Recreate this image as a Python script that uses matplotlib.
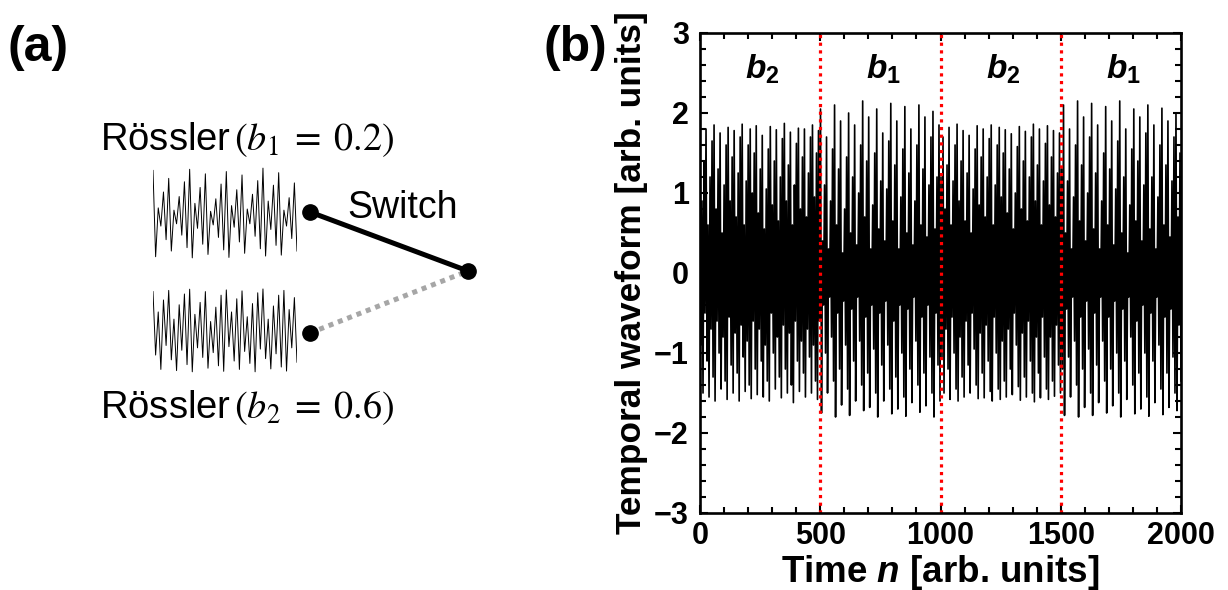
import numpy as np
import matplotlib
matplotlib.use("Agg")
import matplotlib.pyplot as plt
from matplotlib.ticker import MultipleLocator

plt.rcParams['font.family'] = ['Liberation Sans', 'DejaVu Sans']
plt.rcParams['mathtext.fontset'] = 'custom'
plt.rcParams['mathtext.rm'] = 'Liberation Sans:bold'
plt.rcParams['mathtext.it'] = 'Liberation Sans:italic:bold'
plt.rcParams['mathtext.bf'] = 'Liberation Sans:bold'
plt.rcParams['mathtext.bfit'] = 'Liberation Sans:bold:italic'

# Waveform extrema (alternating peak / trough), one block per 500-step interval
seg1_peaks = [1.75, 0.9, 1.4, 1.8, 0.6, 1.2, 1.65, 1.85, 0.8, 1.3, 1.75, 0.5, 1.1, 1.6, 1.82,
              0.9, 1.45, 1.78, 0.7, 1.25, 1.7, 1.86, 0.6, 1.15, 1.6, 1.8, 1.0, 1.5, 1.84, 0.75,
              1.3, 1.72, 0.55, 1.05, 1.55, 1.83, 0.85, 1.4, 1.79, 0.65, 1.2, 1.68, 1.87, 0.9,
              1.35, 1.76, 0.6, 1.1, 1.62, 1.81, 0.8, 1.45, 1.8, 0.7, 1.25, 1.7, 1.85, 0.95, 1.5, 1.78]
seg1_troughs = [-0.9, -1.5, -0.5, -1.1, -1.55, -0.7, -1.3, -1.6, -0.6, -1.0, -1.45, -0.8, -1.35,
                -1.58, -0.55, -1.15, -1.5, -0.75, -1.25, -1.6, -0.65, -1.05, -1.48, -0.85, -1.4,
                -1.57, -0.6, -1.2, -1.52, -0.7, -1.1, -1.55, -0.9, -1.35, -1.6, -0.5, -1.0, -1.45,
                -0.8, -1.3, -1.56, -0.65, -1.2, -1.5, -0.75, -1.4, -1.62, -0.6, -1.1, -1.48, -0.85,
                -1.25, -1.55, -0.7, -1.05, -1.5, -0.9, -1.35, -1.58, -0.6]
seg2_peaks = [2.05, 0.4, 1.1, 1.7, 0.3, 0.9, 1.55, 2.1, 0.6, 1.3, 1.9, 0.25, 0.8, 1.45, 2.0,
              0.5, 1.2, 1.85, 0.35, 1.0, 1.6, 2.15, 0.7, 1.4, 1.95, 0.3, 0.85, 1.5, 2.05, 0.55,
              1.15, 1.75, 0.4, 1.05, 1.65, 2.12, 0.65, 1.35, 1.9, 0.3, 0.95, 1.55, 2.08, 0.5,
              1.25, 1.8, 0.35, 0.9, 1.6, 2.1, 0.6, 1.3, 1.95, 0.45, 1.1, 1.7, 2.02, 0.55, 1.2, 1.85]
seg2_troughs = [-1.75, -0.4, -1.0, -1.5, -0.3, -0.8, -1.35, -1.8, -0.5, -1.2, -1.65, -0.35, -0.9,
                -1.45, -1.78, -0.45, -1.1, -1.6, -0.3, -0.85, -1.4, -1.72, -0.55, -1.25, -1.68,
                -0.4, -0.95, -1.5, -1.8, -0.5, -1.15, -1.6, -0.35, -0.9, -1.45, -1.76, -0.6, -1.3,
                -1.7, -0.4, -1.0, -1.55, -1.79, -0.45, -1.2, -1.62, -0.3, -0.85, -1.4, -1.74,
                -0.55, -1.25, -1.66, -0.4, -1.05, -1.5, -1.8, -0.5, -1.15, -1.6]
seg3_peaks = [1.2, 1.7, 0.8, 1.35, 1.82, 0.6, 1.15, 1.6, 1.86, 0.9, 1.4, 1.78, 0.65, 1.25, 1.72,
              0.5, 1.05, 1.55, 1.84, 0.85, 1.45, 1.8, 0.7, 1.2, 1.68, 1.85, 0.6, 1.1, 1.6, 1.82,
              0.95, 1.5, 1.79, 0.75, 1.3, 1.74, 0.55, 1.0, 1.58, 1.83, 0.8, 1.4, 1.77, 0.65, 1.2,
              1.7, 1.86, 0.9, 1.35, 1.8, 0.6, 1.15, 1.62, 1.84, 0.85, 1.45, 1.78, 0.7, 1.25, 1.75]
seg3_troughs = [-1.05, -1.5, -0.7, -1.2, -1.58, -0.55, -1.0, -1.45, -1.6, -0.8, -1.3, -1.55, -0.6,
                -1.15, -1.5, -0.5, -0.95, -1.4, -1.57, -0.75, -1.25, -1.56, -0.65, -1.1, -1.48,
                -1.6, -0.55, -1.0, -1.45, -1.58, -0.85, -1.35, -1.55, -0.7, -1.2, -1.52, -0.5,
                -0.9, -1.42, -1.59, -0.75, -1.3, -1.55, -0.6, -1.1, -1.5, -1.61, -0.8, -1.25,
                -1.56, -0.55, -1.05, -1.45, -1.58, -0.8, -1.35, -1.54, -0.65, -1.15, -1.5]
seg4_peaks = [1.3, 2.1, 0.5, 1.15, 1.8, 0.3, 0.95, 1.6, 2.15, 0.65, 1.35, 1.95, 0.4, 1.0, 1.7,
              2.12, 0.55, 1.25, 1.85, 0.3, 0.9, 1.5, 2.08, 0.6, 1.3, 1.9, 0.35, 1.05, 1.65, 2.15,
              0.5, 1.2, 1.8, 0.25, 0.85, 1.55, 2.05, 0.65, 1.4, 1.95, 0.4, 1.1, 1.75, 2.1, 0.55,
              1.2, 1.85, 0.3, 0.95, 1.6, 2.06, 0.6, 1.35, 1.9, 0.45, 1.15, 1.7, 2.0, 0.7, 1.5]
seg4_troughs = [-1.2, -1.78, -0.45, -1.05, -1.55, -0.3, -0.85, -1.4, -1.8, -0.55, -1.2, -1.68,
                -0.35, -0.95, -1.5, -1.78, -0.5, -1.15, -1.62, -0.3, -0.85, -1.35, -1.75, -0.55,
                -1.2, -1.66, -0.35, -1.0, -1.5, -1.8, -0.45, -1.1, -1.58, -0.3, -0.8, -1.4, -1.76,
                -0.6, -1.25, -1.7, -0.4, -1.0, -1.55, -1.79, -0.5, -1.1, -1.62, -0.3, -0.9, -1.45,
                -1.77, -0.55, -1.25, -1.68, -0.45, -1.05, -1.5, -1.72, -0.65, -1.35]

switch_times = [500, 1000, 1500]
interval_labels = [r'$\mathbfit{b}_\mathbf{2}$', r'$\mathbfit{b}_\mathbf{1}$',
                   r'$\mathbfit{b}_\mathbf{2}$', r'$\mathbfit{b}_\mathbf{1}$']
interval_centers = [260, 765, 1260, 1760]


def interleave(peaks, troughs):
    out = []
    for p, t in zip(peaks, troughs):
        out += [p, t]
    return out


segments = [(seg1_peaks, seg1_troughs), (seg2_peaks, seg2_troughs),
            (seg3_peaks, seg3_troughs), (seg4_peaks, seg4_troughs)]
wave = np.array(sum([interleave(p, t) for p, t in segments], []))
n = np.linspace(0, 2000, len(wave))

W, H = 1228, 590
fig = plt.figure(figsize=(W / 100, H / 100), dpi=100)

# ---- panel (b): temporal waveform ----
ax = fig.add_axes([700 / W, (H - 513) / H, 481 / W, 480 / H])
ax.plot(n, wave, color='black', lw=1.2)
for t in switch_times:
    ax.axvline(t, color='#ff0000', ls=(0, (1, 1.4)), lw=2.3)
for lab, xc in zip(interval_labels, interval_centers):
    ax.text(xc, 2.55, lab, ha='center', va='center', fontsize=24)

ax.set_xlim(0, 2000)
ax.set_ylim(-3, 3)
ax.xaxis.set_major_locator(MultipleLocator(500))
ax.xaxis.set_minor_locator(MultipleLocator(100))
ax.yaxis.set_major_locator(MultipleLocator(1))
ax.yaxis.set_minor_locator(MultipleLocator(0.2))
ax.tick_params(which='both', direction='in', top=True, right=True, width=1.5)
ax.tick_params(which='major', length=6, labelsize=22, pad=8)
ax.tick_params(axis='x', which='major', pad=6)
ax.tick_params(which='minor', length=4)
for lbl in ax.get_xticklabels() + ax.get_yticklabels():
    lbl.set_fontweight('bold')
for sp in ax.spines.values():
    sp.set_linewidth(1.9)
ax.set_xlabel(r'Time $\mathbfit{n}$ [arb. units]', fontsize=26.5, fontweight='bold', labelpad=1)
ax.set_ylabel('Temporal waveform [arb. units]', fontsize=25.4, fontweight='bold', labelpad=4)

# ---- panel (a): switching schematic, drawn in pixel coordinates ----
sk = fig.add_axes([0, 0, 1, 1], zorder=-1)
sk.set_xlim(0, W)
sk.set_ylim(H, 0)
sk.axis('off')

sk.text(8, 48, '(a)', fontsize=36, fontweight='bold', va='center', ha='left')
sk.text(543, 48, '(b)', fontsize=36, fontweight='bold', va='center', ha='left')

sk.text(100, 140, 'Rössler$\\,(b_1\\;=\\;0.2)$', fontsize=27.5, va='center', ha='left',
        math_fontfamily='stix')
sk.text(100, 408, 'Rössler$\\,(b_2\\;=\\;0.6)$', fontsize=27.5, va='center', ha='left',
        math_fontfamily='stix')
sk.text(403, 208, 'Switch', fontsize=27, va='center', ha='center')

sk.plot([310, 468], [212, 271], color='black', lw=3.6, solid_capstyle='butt')
sk.plot([310, 468], [333, 271], color='#a6a6a6', lw=3.6, ls=(0, (1, 1)))
sk.plot([310, 468, 310], [212, 271, 333], 'o', color='black', ms=11)

# small waveform thumbnails for each oscillator
mini1 = fig.add_axes([153 / W, (H - 259) / H, 144 / W, 92 / H])
mini1.plot(interleave(seg2_peaks[:28], seg2_troughs[:28]), color='black', lw=0.7)
mini1.set_ylim(-1.85, 2.2)
mini1.margins(x=0)
mini1.axis('off')
mini2 = fig.add_axes([153 / W, (H - 373) / H, 144 / W, 85 / H])
mini2.plot(interleave(seg1_peaks[:28], seg1_troughs[:28]), color='black', lw=0.7)
mini2.set_ylim(-1.65, 1.9)
mini2.margins(x=0)
mini2.axis('off')

fig.savefig('out.png', dpi=100)
